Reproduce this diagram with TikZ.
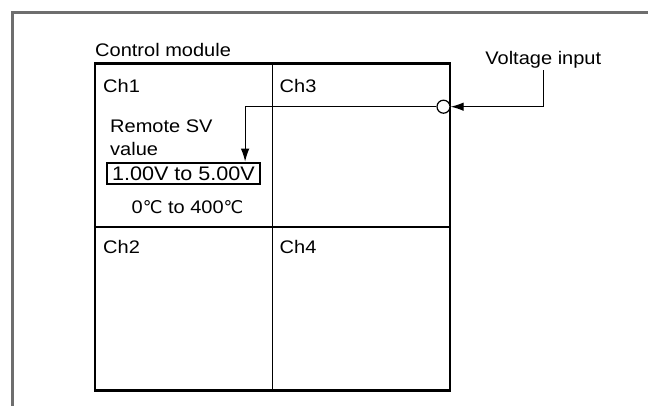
\documentclass[tikz,border=0pt]{standalone}
\usepackage{fontspec}
\setmainfont{Liberation Sans}[FakeStretch=1.1]
\newfontfamily\symfont{DejaVu Sans}
\usetikzlibrary{arrows.meta}
\definecolor{framegray}{RGB}{110,110,110}
\tikzset{
  lbl/.style={anchor=base west, inner sep=0pt},
  wire/.style={line width=1.2pt, -{Latex[length=13pt,width=8.5pt]}},
}
\newcommand{\degc}{{\symfont\fontsize{17.5}{17}\selectfont ℃}}
\begin{document}
\begin{tikzpicture}[x=1pt, y=-1pt, font=\fontsize{18.2}{19}\selectfont]
  \useasboundingbox (0,0) rectangle (648,406);
  % outer frame
  \draw[framegray, line width=2.5pt] (648,12.5) -- (12.5,12.5) -- (12.5,406);

  % control module with four channels
  \node[draw, line width=2.5pt, minimum width=355pt, minimum height=327pt, inner sep=0pt] (module) at (272.5,227) {};
  \draw[line width=1.5pt] (module.north) -- (module.south);
  \draw[line width=1.5pt] (module.west) -- (module.east);
  \node[lbl] (title) at (95,57) {Control module};
  \node[lbl] (ch1) at (103,93) {Ch1};
  \node[lbl] (ch3) at (279.5,93) {Ch3};
  \node[lbl] (ch2) at (103,254) {Ch2};
  \node[lbl] (ch4) at (279.5,254) {Ch4};

  % remote SV value
  \node[lbl, align=left] (remote) at (110,156) {Remote SV\\[4pt]value};
  \node[draw, line width=2.2pt, minimum width=153pt, minimum height=21pt, inner sep=0pt,
        font=\fontsize{19.6}{19}\selectfont] (range) at (183.5,173.3) {1.00V to 5.00V};
  \node[inner sep=0pt, anchor=base] (temp) at (187.5,213.3) {0\degc{} to 400\degc};

  % voltage input
  \node[inner sep=0pt, anchor=base] (vin) at (543.3,65) {Voltage input};
  \node[circle, draw, line width=1.2pt, minimum size=13pt, inner sep=0pt, fill=white] (term) at (443.5,106.7) {};
  \draw[wire] ([yshift=-1.5pt]vin.south) |- (term.east);
  \draw[wire] (term.west) -| ([xshift=-16pt]range.north east);
\end{tikzpicture}
\end{document}
